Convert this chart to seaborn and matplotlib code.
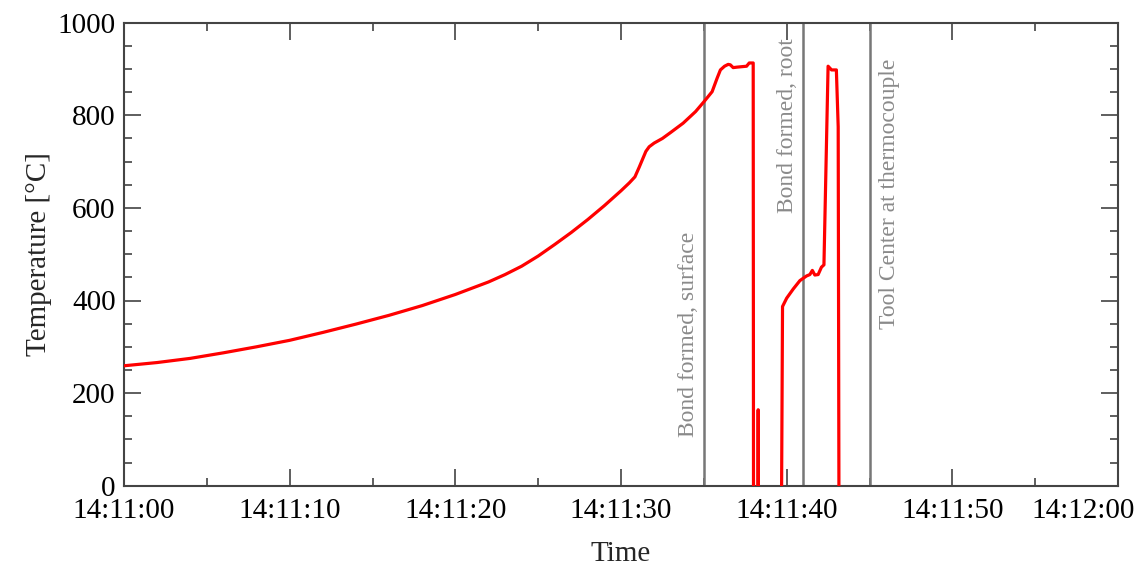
import matplotlib
matplotlib.use("Agg")
import matplotlib.pyplot as plt
import matplotlib.transforms as mtransforms
import seaborn as sns
import numpy as np
import pandas as pd

# seconds after 14:11:00
time_s = [0, 2, 4, 6, 8, 10, 12, 14, 16, 18, 20, 22, 23, 24, 25, 26, 27, 28, 29, 30,
          30.5, 30.84, 31.1, 31.3, 31.5, 31.7, 32.0, 32.5, 33.0, 33.75, 34.5, 35.0,
          35.5, 35.8, 36.0, 36.25, 36.47, 36.6, 36.77, 37.0, 37.58, 37.74, 37.98,
          38.0, 38.26, 38.28, 38.30, 39.68, 39.75, 40.0, 40.4, 40.8, 41.2, 41.4,
          41.55, 41.7, 41.9, 42.1, 42.25, 42.5, 42.71, 43.0, 43.11, 43.16]
temperature = [259, 266, 275, 287, 300, 314, 331, 349, 368, 389, 413, 440, 456, 474, 496,
               521, 547, 575, 605, 637,
               654, 667, 688, 705, 722, 732, 740, 750, 763, 783, 808, 829,
               851, 880, 898, 906, 910, 909, 903, 904, 906, 913, 913,
               -100, -100, 164, -100, -100, 387, 405, 425, 443, 453, 456,
               465, 455, 456, 472, 477, 906, 898, 898, 775, -100]

event_times = [35, 41, 45]
event_labels = ["Bond formed, surface", "Bond formed, root", "Tool Center at thermocouple"]

xtick_pos = [0, 10, 20, 30, 40, 50, 60]
xtick_labels = ["14:11:00", "14:11:10", "14:11:20", "14:11:30", "14:11:40", "14:11:50", "14:12:00"]
ytick_pos = [0, 200, 400, 600, 800, 1000]

sns.set_theme(style="ticks")
plt.rcParams["font.family"] = ["Liberation Serif", "DejaVu Serif"]

fig = plt.figure(figsize=(11.38, 5.67), dpi=100)
ax = fig.add_axes([124 / 1138, 1 - 485.7 / 567, (1118 - 124) / 1138, (485.7 - 22.7) / 567])

df = pd.DataFrame({"t": time_s, "T": temperature})
sns.lineplot(data=df, x="t", y="T", color="#ff0000", linewidth=2.3,
             estimator=None, sort=False, ax=ax, zorder=3)

for xv in event_times:
    ax.axvline(xv, color="#777777", linewidth=1.8, zorder=2)

txt_kw = dict(rotation=90, color="#8a8a8a", fontsize=17)
ax.text(event_times[0] - 0.3, 105, event_labels[0], ha="right", va="bottom", **txt_kw)
ax.text(event_times[1] - 0.3, 590, event_labels[1], ha="right", va="bottom", **txt_kw)
ax.text(event_times[2] + 0.55, 338, event_labels[2], ha="left", va="bottom", **txt_kw)

ax.set_xlim(0, 60)
ax.set_ylim(0, 1000)
ax.set_xticks(xtick_pos)
ax.set_xticklabels(xtick_labels)
ax.set_xticks(np.arange(0, 61, 5), minor=True)
ax.set_yticks(ytick_pos)
ax.set_yticks(np.arange(0, 1001, 50), minor=True)

ax.tick_params(which="both", direction="in", top=True, right=True, colors="#333333",
               labelcolor="black", labelsize=21)
ax.tick_params(which="major", length=12, width=1.1)
ax.tick_params(axis="x", which="major", pad=9)
ax.tick_params(axis="y", which="major", pad=6)
ax.tick_params(which="minor", length=6, width=1.1)
for sp in ax.spines.values():
    sp.set_color("#444444")
    sp.set_linewidth(1.5)
    sp.set_visible(True)

ax.set_xlabel("Time", fontsize=21, labelpad=12)
ax.set_ylabel("Temperature [°C]", fontsize=21, labelpad=4)

# shift last tick label to stay inside the figure
lab = ax.get_xticklabels()[-1]
lab.set_transform(lab.get_transform() + mtransforms.ScaledTranslation(-35 / 100, 0, fig.dpi_scale_trans))

fig.savefig("out.png", dpi=100, facecolor="white")
